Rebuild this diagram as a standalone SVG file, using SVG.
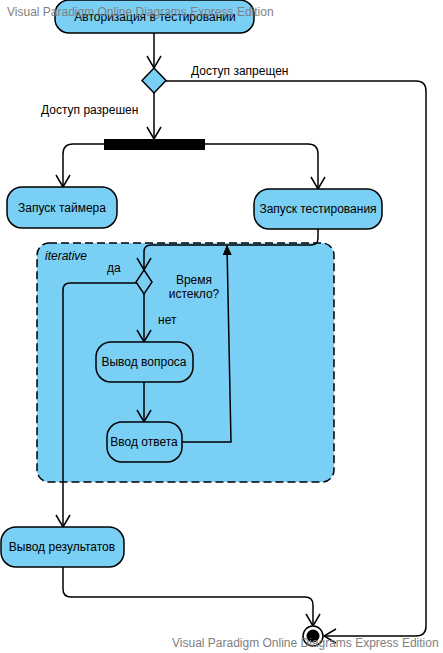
<svg xmlns="http://www.w3.org/2000/svg" width="443" height="653" viewBox="0 0 443 653">
  <defs>
    <style>
      .act { fill: #7acff4; stroke: #000; stroke-width: 1.5; }
      .lbl { font-family: "Liberation Sans", Arial, sans-serif; font-size: 12px; fill: #000; }
      .mid { text-anchor: middle; }
      .edge { fill: none; stroke: #000; stroke-width: 1.5; }
      .wm { font-family: "Liberation Sans", Arial, sans-serif; font-size: 12px; fill: #808080; }
    </style>
    <marker id="open" viewBox="0 0 14 16" refX="13" refY="8" markerWidth="14" markerHeight="16" markerUnits="userSpaceOnUse" orient="auto">
      <path d="M1,1 L13,8 L1,15" fill="none" stroke="#000" stroke-width="1.5"/>
    </marker>
    <marker id="solid" viewBox="0 0 10 10" refX="9" refY="5" markerWidth="10" markerHeight="10" markerUnits="userSpaceOnUse" orient="auto">
      <path d="M0,1 L9,5 L0,9 Z" fill="#000" stroke="#000" stroke-width="1"/>
    </marker>
  </defs>

  <!-- iterative region -->
  <g id="region-iterative">
    <rect x="37" y="243" width="297" height="239" rx="12" fill="#7acff4" stroke="#000" stroke-width="1.5" stroke-dasharray="8 4"/>
    <text x="45" y="260" class="lbl" font-style="italic">iterative</text>
  </g>

  <!-- connectors -->
  <g id="connectors">
    <path class="edge" d="M154,33 V68" marker-end="url(#open)"/>
    <path class="edge" d="M166,81 H416 Q426,81 426,91 V626 Q426,636 416,636 H324" marker-end="url(#open)"/>
    <path class="edge" d="M154,93 V139" marker-end="url(#open)"/>
    <path class="edge" d="M104,144 H73 Q63,144 63,154 V187" marker-end="url(#open)"/>
    <path class="edge" d="M205,144 H308 Q318,144 318,154 V189" marker-end="url(#open)"/>
    <path class="edge" d="M318,229 V238 Q318,245 311,245 H151 Q144,245 144,252 V270" marker-end="url(#open)"/>
    <path class="edge" d="M137,283 H70 Q63,283 63,290 V527" marker-end="url(#open)"/>
    <path class="edge" d="M144,294 V342" marker-end="url(#open)"/>
    <path class="edge" d="M144,382 V422" marker-end="url(#open)"/>
    <path class="edge" d="M182,442 H231 L227,246" marker-end="url(#solid)"/>
    <path class="edge" d="M63,567 V589 Q63,597 71,597 H305 Q313,597 313,605 V626" marker-end="url(#open)"/>
    <text x="191" y="75" class="lbl">Доступ запрещен</text>
    <text x="41" y="114" class="lbl">Доступ разрешен</text>
    <text x="107" y="272" class="lbl">да</text>
    <text x="158" y="324" class="lbl">нет</text>
    <text x="194" y="284" class="lbl mid">Время</text>
    <text x="194" y="298" class="lbl mid">истекло?</text>
  </g>

  <g id="auth">
    <rect x="55" y="0" width="199" height="33" rx="14" class="act"/>
    <text x="155" y="21" class="lbl mid">Авторизация в тестировании</text>
  </g>

  <g id="access-decision">
    <path d="M154,68 L166,80.5 L154,93 L142,80.5 Z" class="act"/>
  </g>

  <g id="fork">
    <rect x="104" y="139" width="101" height="11" fill="#000"/>
  </g>

  <g id="timer">
    <rect x="7" y="187" width="110" height="41" rx="15" class="act"/>
    <text x="62" y="212" class="lbl mid">Запуск таймера</text>
  </g>

  <g id="testing">
    <rect x="254" y="189" width="128" height="40" rx="15" class="act"/>
    <text x="318" y="213" class="lbl mid">Запуск тестирования</text>
  </g>

  <g id="timeout-decision">
    <path d="M144,270 L152,282 L144,294 L136,282 Z" class="act"/>
  </g>

  <g id="question">
    <rect x="96" y="342" width="97" height="40" rx="15" class="act"/>
    <text x="144" y="366" class="lbl mid">Вывод вопроса</text>
  </g>

  <g id="answer">
    <rect x="107" y="422" width="75" height="40" rx="15" class="act"/>
    <text x="144" y="446" class="lbl mid">Ввод ответа</text>
  </g>

  <g id="results">
    <rect x="1" y="527" width="123" height="40" rx="15" class="act"/>
    <text x="62" y="551" class="lbl mid">Вывод результатов</text>
  </g>

  <g id="final">
    <circle cx="313" cy="636" r="10" fill="#fff" stroke="#000" stroke-width="1.5"/>
    <circle cx="313" cy="636" r="6.5" fill="#000"/>
  </g>

  <g id="watermarks">
    <text x="7" y="16" class="wm">Visual Paradigm Online Diagrams Express Edition</text>
    <text x="172" y="647" class="wm">Visual Paradigm Online Diagrams Express Edition</text>
  </g>
</svg>
